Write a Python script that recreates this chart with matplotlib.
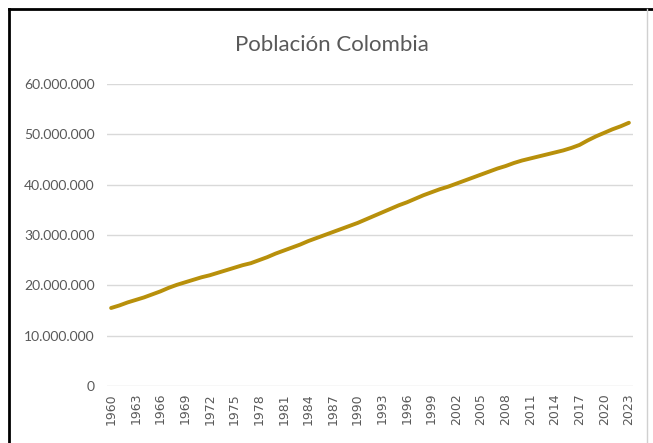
import matplotlib
matplotlib.use("Agg")
import matplotlib.pyplot as plt
from matplotlib.ticker import FuncFormatter, MultipleLocator
from matplotlib.lines import Line2D

# datos (millones de habitantes)
years = list(range(1960, 2024))
poblacion_mill = [
    15.5, 16.0, 16.6, 17.1, 17.6, 18.2, 18.8, 19.5, 20.1, 20.6,
    21.1, 21.6, 22.0, 22.5, 23.0, 23.5, 24.0, 24.4, 25.0, 25.6,
    26.3, 26.9, 27.5, 28.1, 28.8, 29.4, 30.0, 30.6, 31.2, 31.8,
    32.4, 33.1, 33.8, 34.5, 35.2, 35.9, 36.5, 37.2, 37.9, 38.5,
    39.1, 39.6, 40.2, 40.8, 41.4, 42.0, 42.6, 43.2, 43.7, 44.3,
    44.8, 45.2, 45.6, 46.0, 46.4, 46.8, 47.3, 47.9, 48.8, 49.6,
    50.3, 51.0, 51.6, 52.3,
]
poblacion = [v * 1e6 for v in poblacion_mill]
titulo = "Población Colombia"

W, H = 653, 443
fig = plt.figure(figsize=(W / 100, H / 100), dpi=100)
fig.patch.set_facecolor("white")

ax = fig.add_axes([107 / W, 57 / H, 526 / W, 302 / H])
x = list(range(len(years)))
ax.plot(x, poblacion, color="#B8900B", linewidth=2.8, solid_capstyle="round")

ax.set_xlim(-0.5, len(years) - 0.5)
ax.set_ylim(0, 60e6)
ax.yaxis.set_major_locator(MultipleLocator(10e6))
ax.yaxis.set_major_formatter(FuncFormatter(lambda v, p: f"{int(v):,}".replace(",", ".")))
ax.set_xticks(x[::3])
ax.set_xticklabels([str(y) for y in years[::3]], rotation=90)

ax.grid(axis="y", color="#D9D9D9", linewidth=1)
ax.set_axisbelow(True)
for s in ax.spines.values():
    s.set_visible(False)
ax.tick_params(length=0, colors="#595959")
ax.tick_params(axis="x", labelsize=9, pad=5)
ax.tick_params(axis="y", pad=9)
for lab in ax.get_xticklabels():
    lab.set_fontfamily("DejaVu Sans")
for lab in ax.get_yticklabels():
    lab.set_fontfamily("Lato")
    lab.set_fontsize(10)

fig.text(332 / W, 1 - 45 / H, titulo, ha="center", va="center",
         fontsize=16, color="#595959", family="Lato")

# marco de la captura
fig.add_artist(Line2D([9 / W, 9 / W], [0, 1 - 9 / H], color="black", linewidth=2))
fig.add_artist(Line2D([9 / W, 1], [1 - 9 / H, 1 - 9 / H], color="black", linewidth=2))
fig.add_artist(Line2D([647 / W, 647 / W], [0, 1 - 9 / H], color="#D0D0D0", linewidth=1))

fig.savefig("out.png", dpi=100)
